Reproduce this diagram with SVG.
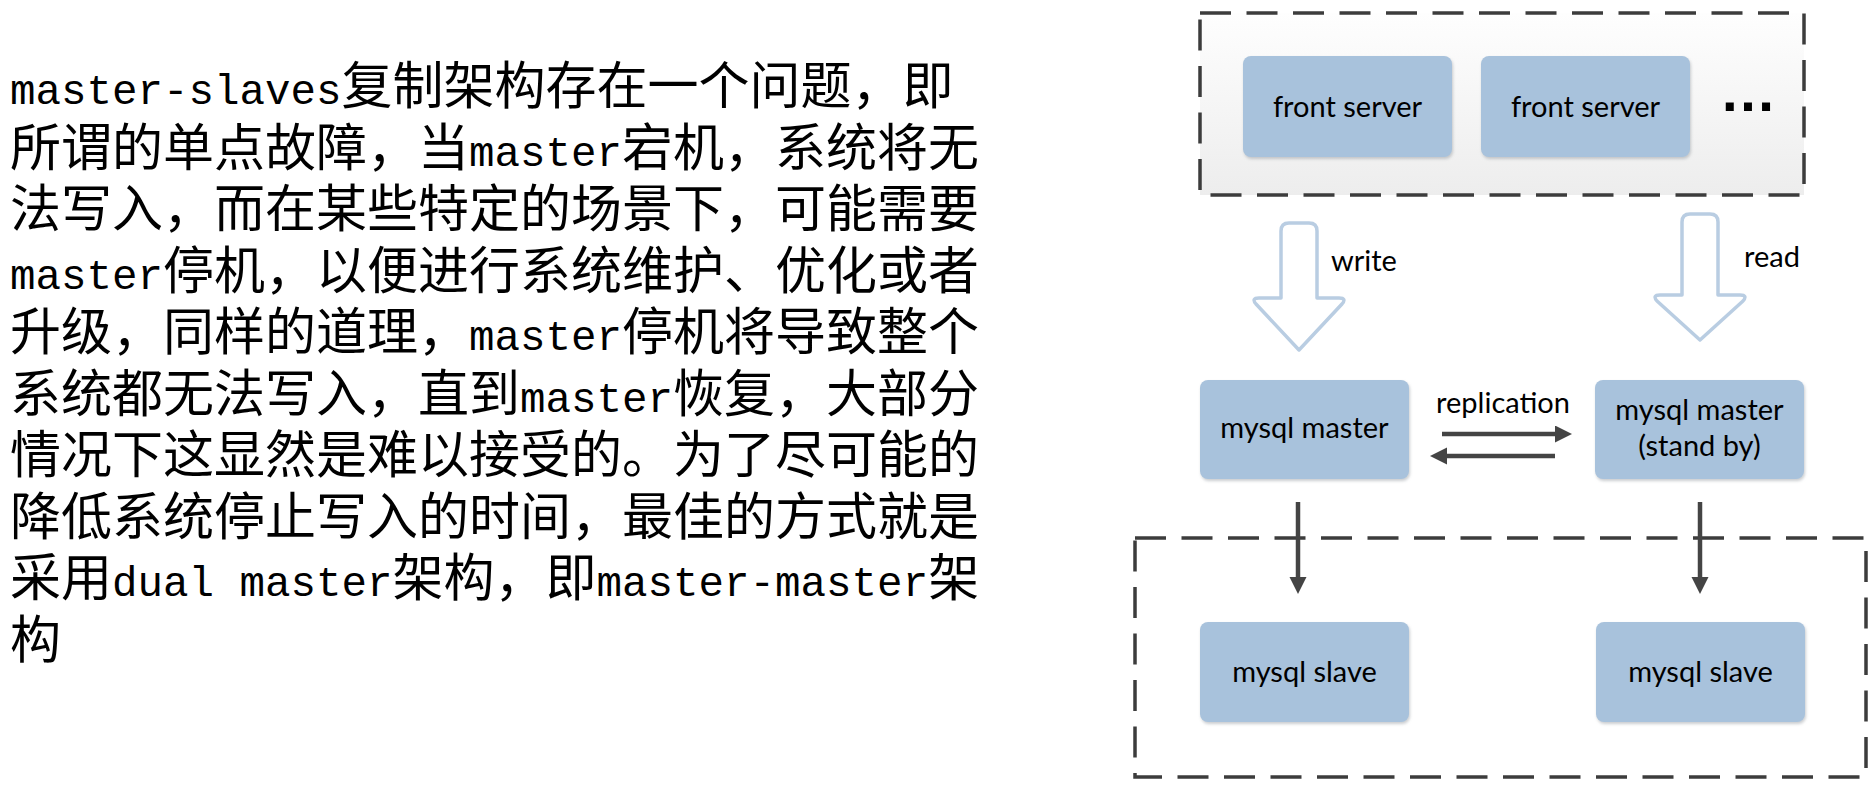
<svg xmlns="http://www.w3.org/2000/svg" width="1874" height="786" viewBox="0 0 1874 786">
<style>
.cn{font-family:"Noto Sans CJK SC","Noto Sans CJK JP",sans-serif;font-size:51px;fill:#000}
.l{font-family:"Liberation Mono",monospace;font-size:42.5px}
.box{fill:#a8c2dc;filter:url(#sh)}
.lbl{font-family:Lato,"Liberation Sans",sans-serif;font-size:29px;fill:#000;text-anchor:middle}
.side{font-family:Lato,"Liberation Sans",sans-serif;font-size:29px;fill:#000}
.dash{fill:none;stroke:#3c3c3c;stroke-width:3.5;stroke-dasharray:31 15.5}
.hollow{fill:#fff;stroke:#b9cde2;stroke-width:3.5;stroke-linejoin:round}
.conn{stroke:#444;stroke-width:4.5;fill:none}
</style>
<defs>
<filter id="sh" x="-10%" y="-10%" width="120%" height="130%">
<feDropShadow dx="1" dy="2" stdDeviation="1.5" flood-color="#8a8f96" flood-opacity="0.45"/>
</filter>
<linearGradient id="bg" x1="0" y1="0" x2="0" y2="1">
<stop offset="0" stop-color="#fefefe"/>
<stop offset="1" stop-color="#ededed"/>
</linearGradient>
<marker id="ah" markerUnits="userSpaceOnUse" markerWidth="18" markerHeight="18" refX="6" refY="8.5" orient="auto">
<path d="M0,0 L17,8.5 L0,17 Z" fill="#444"/>
</marker>
</defs>

<g id="description">
<text class="cn" x="10" y="104"><tspan x="10" y="104"><tspan class="l">master-slaves</tspan>复制架构存在一个问题，即</tspan><tspan x="10" y="165.5">所谓的单点故障，当<tspan class="l">master</tspan>宕机，系统将无</tspan><tspan x="10" y="227">法写入，而在某些特定的场景下，可能需要</tspan><tspan x="10" y="288.5"><tspan class="l">master</tspan>停机，以便进行系统维护、优化或者</tspan><tspan x="10" y="350">升级，同样的道理，<tspan class="l">master</tspan>停机将导致整个</tspan><tspan x="10" y="411.5">系统都无法写入，直到<tspan class="l">master</tspan>恢复，大部分</tspan><tspan x="10" y="473">情况下这显然是难以接受的。为了尽可能的</tspan><tspan x="10" y="534.5">降低系统停止写入的时间，最佳的方式就是</tspan><tspan x="10" y="596">采用<tspan class="l">dual master</tspan>架构，即<tspan class="l">master-master</tspan>架</tspan><tspan x="10" y="657.5">构</tspan></text>
</g>

<g id="front-tier">
<rect x="1200" y="13" width="604" height="182" fill="url(#bg)"/>
<rect class="dash" x="1200" y="13" width="604" height="182"/>
</g>
<g id="front-server-1">
<rect class="box" x="1243" y="56" width="209" height="101" rx="8"/>
<text class="lbl" x="1347.5" y="117">front server</text>
</g>
<g id="front-server-2">
<rect class="box" x="1481" y="56" width="209" height="101" rx="8"/>
<text class="lbl" x="1585.5" y="117">front server</text>
</g>
<g id="more-servers">
<text x="1748" y="111" font-family="Liberation Sans,sans-serif" font-weight="bold" font-size="57" text-anchor="middle" fill="#000">…</text>
</g>

<g id="slave-tier">
<rect class="dash" x="1135" y="538" width="731" height="239"/>
</g>

<g id="mysql-master">
<rect class="box" x="1200" y="380" width="209" height="99" rx="8"/>
<text class="lbl" x="1304.5" y="438">mysql master</text>
</g>
<g id="mysql-master-standby">
<rect class="box" x="1595" y="380" width="209" height="99" rx="8"/>
<text class="lbl" x="1699.5" y="420">mysql master</text>
<text class="lbl" x="1699.5" y="456">(stand by)</text>
</g>
<g id="mysql-slave-1">
<rect class="box" x="1200" y="622" width="209" height="100" rx="8"/>
<text class="lbl" x="1304.5" y="682">mysql slave</text>
</g>
<g id="mysql-slave-2">
<rect class="box" x="1596" y="622" width="209" height="100" rx="8"/>
<text class="lbl" x="1700.5" y="682">mysql slave</text>
</g>

<g id="connectors">
<path class="hollow" d="M1281,298 L1281,231 Q1281,223 1289,223 L1309,223 Q1317,223 1317,231 L1317,298 L1339,298 Q1347,298 1342,304 L1299,350 L1256,304 Q1251,298 1259,298 Z"/>
<text class="side" x="1331" y="271">write</text>
<path class="hollow" d="M1682,295 L1682,222 Q1682,214 1690,214 L1710,214 Q1718,214 1718,222 L1718,295 L1740,295 Q1748,295 1743,301 L1700,340 L1657,301 Q1652,295 1660,295 Z"/>
<text class="side" x="1744" y="267">read</text>
<text class="lbl" x="1503" y="413">replication</text>
<line class="conn" x1="1442" y1="434" x2="1561" y2="434" marker-end="url(#ah)"/>
<line class="conn" x1="1555" y1="456" x2="1441" y2="456" marker-end="url(#ah)"/>
<line class="conn" x1="1298" y1="502" x2="1298" y2="583" marker-end="url(#ah)"/>
<line class="conn" x1="1700" y1="502" x2="1700" y2="583" marker-end="url(#ah)"/>
</g>
</svg>
